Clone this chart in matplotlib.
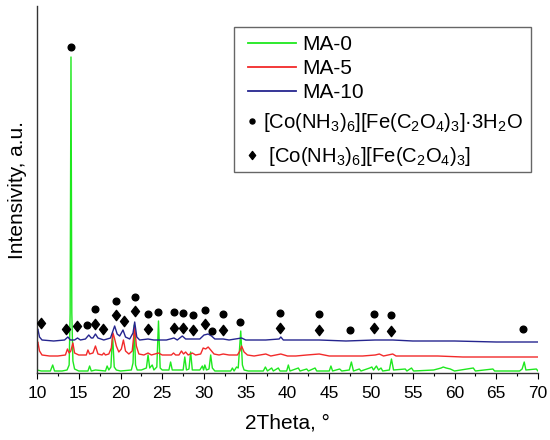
import matplotlib
matplotlib.use('Agg')
import matplotlib.pyplot as plt
from matplotlib.lines import Line2D
from matplotlib.patches import Rectangle
from matplotlib.path import Path

plt.rcParams['font.family'] = ['Liberation Sans', 'DejaVu Sans']
plt.rcParams['mathtext.fontset'] = 'custom'
plt.rcParams['mathtext.rm'] = 'Liberation Sans'
plt.rcParams['mathtext.default'] = 'regular'

# MA-0 (green)
ma0_x = [10.0, 10.5, 11.6, 11.88, 12.1, 13.0, 13.6, 13.85, 13.97, 14.07, 14.17, 14.3, 14.5, 15.0,
         16.1, 16.3, 16.5, 17.0, 18.2, 18.4, 18.6, 18.85, 19.05, 19.25, 19.5, 20.0, 21.3, 21.5,
         21.65, 21.8, 22.0, 22.5, 23.1, 23.3, 23.5, 23.8, 24.0, 24.35, 24.55, 24.75, 25.0, 25.8,
         26.0, 26.2, 27.5, 27.7, 27.9, 28.2, 28.4, 28.6, 29.5, 29.8, 29.95, 30.1, 30.3, 30.6,
         30.8, 31.0, 31.3, 33.2, 33.4, 33.6, 33.9, 34.1, 34.4, 34.6, 34.8, 35.3, 37.1, 37.35,
         37.6, 38.1, 38.3, 38.9, 39.1, 39.9, 40.1, 40.3, 41.3, 41.5, 42.3, 42.5, 43.3, 43.5,
         45.0, 45.2, 45.4, 46.25, 46.5, 47.4, 47.65, 47.9, 48.6, 48.8, 49.85, 50.1, 50.3, 50.65,
         50.9, 51.2, 51.4, 52.2, 52.45, 52.7, 54.1, 54.3, 54.85, 55.1, 57.5, 58.4, 58.65, 59.0,
         59.5, 60.0, 62.25, 62.5, 64.6, 64.8, 67.8, 68.1, 68.35, 68.55, 69.8, 70.0]
ma0_y = [3, 2, 2, 8, 2, 2, 3, 8, 60, 316, 60, 12, 4, 2,
         2, 7, 2, 3, 2, 7, 3, 6, 38, 6, 3, 2, 3, 10,
         48, 8, 3, 3, 5, 18, 5, 8, 3, 6, 52, 5, 3, 3,
         11, 3, 3, 16, 3, 4, 21, 3, 3, 7, 3, 8, 3, 4,
         18, 5, 2, 2, 5, 2, 6, 5, 42, 8, 3, 2, 2, 6,
         2, 5, 2, 5, 2, 2, 8, 2, 5, 2, 4, 2, 5, 2,
         2, 7, 2, 4, 2, 3, 11, 2, 4, 2, 5, 6, 3, 7,
         3, 5, 2, 3, 14, 3, 4, 2, 5, 2, 3, 5, 6, 5,
         4, 2, 5, 2, 4, 2, 2, 4, 11, 3, 4, 2]

# MA-5 (red)
ma5_x = [10.0, 10.1, 10.3, 10.6, 11.5, 12.5, 13.4, 13.65, 13.85, 14.05, 14.3, 14.5, 15.0, 15.9,
         16.1, 16.3, 16.7, 17.0, 17.3, 17.8, 18.0, 18.2, 18.6, 18.9, 19.1, 19.3, 19.5, 19.8,
         20.1, 20.35, 20.6, 21.0, 21.4, 21.7, 21.9, 22.2, 22.8, 23.3, 23.7, 24.55, 25.0, 26.1,
         26.35, 26.6, 27.0, 27.3, 27.55, 27.8, 28.1, 28.6, 29.0, 29.6, 29.9, 30.2, 30.5, 30.8,
         31.2, 31.8, 32.3, 33.0, 34.0, 34.3, 34.5, 34.8, 35.2, 36.0, 37.4, 38.0, 39.2, 40.0,
         41.0, 42.3, 43.8, 45.0, 47.0, 49.0, 50.5, 51.0, 51.5, 52.6, 53.0, 55.0, 58.0, 61.0,
         65.0, 70.0]
ma5_y = [30, 31, 22, 18, 17, 17, 18, 24, 20, 22, 30, 20, 18, 18,
         23, 19, 20, 27, 19, 18, 20, 18, 19, 25, 40, 34, 27, 21,
         24, 33, 22, 19, 22, 46, 27, 19, 18, 20, 18, 20, 18, 18,
         20, 18, 18, 22, 19, 21, 18, 20, 18, 19, 25, 24, 26, 23,
         19, 18, 19, 18, 18, 22, 27, 21, 18, 17, 19, 17, 19, 17,
         17, 18, 19, 17, 17, 17, 18, 19, 17, 19, 17, 17, 17, 16,
         16, 16]

# MA-10 (blue)
ma10_x = [10.0, 10.1, 10.3, 10.6, 12.0, 13.3, 13.7, 14.0, 14.5, 14.85, 15.2, 15.8, 16.2, 16.5,
          16.7, 17.0, 17.3, 18.0, 18.8, 19.3, 19.6, 19.9, 20.3, 20.6, 21.1, 21.5, 21.7, 21.95,
          22.3, 23.3, 24.0, 25.5, 26.4, 26.8, 27.4, 27.8, 28.6, 29.5, 30.0, 30.5, 30.9, 31.3,
          32.3, 33.0, 34.5, 35.0, 37.4, 39.0, 39.2, 39.5, 41.0, 43.8, 47.0, 50.5, 52.6, 55.0,
          60.0, 65.0, 70.0]
ma10_y = [43, 44, 36, 33, 32, 33, 36, 33, 33, 35, 33, 34, 38, 35,
          35, 39, 35, 33, 35, 47, 39, 37, 43, 36, 34, 40, 51, 36,
          33, 34, 33, 33, 35, 33, 37, 34, 34, 34, 38, 39, 37, 34,
          34, 33, 35, 33, 33, 34, 36, 33, 33, 33, 32, 33, 33, 32,
          32, 31, 31]

# [Co(NH3)6][Fe(C2O4)3]*3H2O markers
hyd_x = [14.07, 16.0, 16.92, 19.5, 21.78, 23.26, 24.45, 26.4, 27.48, 28.7, 30.17, 31.0, 32.28,
         34.36, 39.15, 43.77, 47.45, 50.32, 52.44, 68.24]
hyd_y = [326, 48, 64, 72, 76, 59, 61, 61, 60, 58, 63, 42, 59, 51, 60, 59, 43, 59, 58, 44]

# [Co(NH3)6][Fe(C2O4)3] markers
anh_x = [10.48, 13.47, 14.8, 17.0, 17.87, 19.5, 20.47, 21.78, 23.26, 26.4, 27.48, 28.7, 30.17,
         32.28, 39.15, 43.77, 50.32, 52.44]
anh_y = [50, 44, 47, 49, 44, 58, 52, 62, 44, 45, 45, 43, 49, 43, 45, 43, 45, 42]

labels = ['MA-0', 'MA-5', 'MA-10']
colors = ['#1ee81e', '#f22a2a', '#25258f']
lbl_hyd = r'[Co(NH$_3$)$_6$][Fe(C$_2$O$_4$)$_3$]·3H$_2$O'
lbl_anh = r' [Co(NH$_3$)$_6$][Fe(C$_2$O$_4$)$_3$]'

diamond = Path([(0, 1), (0.78, 0), (0, -1), (-0.78, 0), (0, 1)],
               [Path.MOVETO, Path.LINETO, Path.LINETO, Path.LINETO, Path.CLOSEPOLY])

fig = plt.figure(figsize=(5.5, 4.4), dpi=100)
ax = fig.add_axes([37 / 550, 1 - 373 / 440, 501 / 550, 367 / 440])

ax.plot(ma0_x, ma0_y, color=colors[0], lw=1.0)
ax.plot(ma5_x, ma5_y, color=colors[1], lw=1.0)
ax.plot(ma10_x, ma10_y, color=colors[2], lw=1.0)
ax.plot(hyd_x, hyd_y, 'o', color='black', ms=4.8, zorder=4)
ax.plot(anh_x, anh_y, ls='none', marker=diamond, color='black', ms=7.4, zorder=4)

ax.set_xlim(10, 70)
ax.set_ylim(0, 367)
ax.set_xticks(range(10, 71, 5))
ax.set_xticks([x + 2.5 for x in range(10, 70, 5)], minor=True)
ax.set_yticks([])
ax.tick_params(axis='x', which='major', direction='out', length=4, width=0.8, labelsize=12.5, pad=5)
ax.tick_params(axis='x', which='minor', direction='out', length=2.5, width=0.8)
ax.spines['top'].set_visible(False)
ax.spines['right'].set_visible(False)
for s in ['left', 'bottom']:
    ax.spines[s].set_color('#333333')
    ax.spines[s].set_linewidth(1.0)

ax.set_xlabel('2Theta, °', size=15, labelpad=9)
ax.set_ylabel('Intensivity, a.u.', size=15, labelpad=7)

line_handles = [Line2D([], [], color=c, lw=1.3) for c in colors]
leg1 = fig.legend(line_handles, labels, loc='upper left',
                  bbox_to_anchor=(248 / 550, 1 - 35 / 440), bbox_transform=fig.transFigure,
                  frameon=False, borderpad=0, borderaxespad=0, fontsize=15, handlelength=2.3,
                  handletextpad=0.3, labelspacing=0.25)
mark_handles = [Line2D([], [], ls='none', marker='o', color='black', ms=3.6),
                Line2D([], [], ls='none', marker=diamond, color='black', ms=5.8)]
leg2 = fig.legend(mark_handles, [lbl_hyd, lbl_anh], loc='upper left',
                  bbox_to_anchor=(248 / 550, 1 - 111 / 440), bbox_transform=fig.transFigure,
                  frameon=False, borderpad=0, borderaxespad=0, fontsize=14.6, handlelength=0.4,
                  handletextpad=0.35, labelspacing=0.55)
fig.add_artist(Rectangle((234 / 550, 1 - 172 / 440), 297 / 550, 145 / 440,
                         transform=fig.transFigure, fill=False, ec='#666666', lw=1.0))

fig.savefig('out.png', dpi=100)
